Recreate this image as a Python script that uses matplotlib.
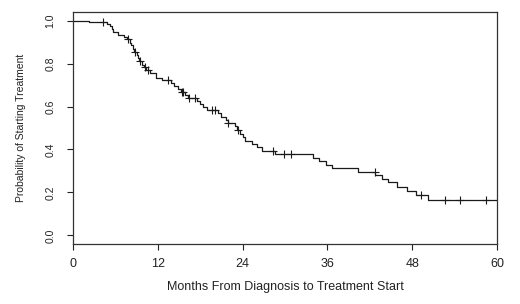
import numpy as np
import matplotlib
matplotlib.use("Agg")
import matplotlib.pyplot as plt

# Kaplan-Meier step curve (time in months, survival after the drop)
step_times = [2.2, 4.8, 5.2, 5.5, 5.7, 6.4, 7.2, 7.6, 8.0, 8.2, 8.5, 8.7, 9.0, 9.2,
              9.4, 9.7, 10.0, 10.4, 10.9, 11.8, 12.6, 13.8, 14.3, 14.8, 15.3, 15.8,
              16.3, 17.5, 18.0, 18.4, 19.0, 20.5, 21.0, 21.6, 22.0, 22.9, 23.2, 23.6,
              24.0, 24.4, 25.4, 26.1, 26.7, 28.6, 34.0, 34.8, 35.8, 36.7, 40.4, 42.8,
              43.7, 44.6, 45.8, 47.2, 48.6, 50.3]
step_surv = [0.993, 0.985, 0.975, 0.962, 0.945, 0.935, 0.925, 0.912, 0.898, 0.885,
             0.870, 0.855, 0.840, 0.825, 0.810, 0.795, 0.782, 0.770, 0.757, 0.735,
             0.722, 0.708, 0.695, 0.682, 0.668, 0.652, 0.640, 0.625, 0.610, 0.597,
             0.583, 0.568, 0.553, 0.538, 0.524, 0.508, 0.492, 0.474, 0.456, 0.440,
             0.425, 0.410, 0.393, 0.377, 0.361, 0.346, 0.330, 0.312, 0.296, 0.280,
             0.264, 0.248, 0.224, 0.206, 0.186, 0.167]

# censored observations
censor_times = [4.3, 7.8, 8.8, 9.5, 10.2, 10.6, 13.4, 15.4, 15.6, 16.4, 17.3, 19.6,
                20.1, 22.0, 23.4, 28.3, 29.8, 30.9, 42.7, 49.3, 52.6, 54.8, 58.5]

x_ticks = [0, 12, 24, 36, 48, 60]
y_ticks = [0.0, 0.2, 0.4, 0.6, 0.8, 1.0]
x_title = "Months From Diagnosis to Treatment Start"
y_title = "Probability of Starting Treatment"
x_max = 60

plt.rcParams['font.family'] = ['Liberation Sans', 'DejaVu Sans']
ink = '#222222'

fig = plt.figure(figsize=(5.2, 3.04), dpi=100)
ax = fig.add_axes([73/520, 1 - 244/304, (497 - 73)/520, (244 - 12)/304])

xs = np.concatenate([[0], step_times, [x_max]])
ys = np.concatenate([[1.0], step_surv, [step_surv[-1]]])
ax.step(xs, ys, where='post', color='#1a1a1a', lw=0.9)

# y value of each censor mark taken from the step curve
idx = np.searchsorted(xs, censor_times, side='right') - 1
ax.plot(censor_times, ys[idx], ls='none', marker='+', ms=6, mew=0.8, color='#1a1a1a')

ax.set_xlim(0, x_max)
ax.set_ylim(-0.04, 1.04)
ax.set_xticks(x_ticks)
ax.set_xticklabels([str(t) for t in x_ticks], fontsize=9, color=ink)
ax.set_yticks(y_ticks)
ax.set_yticklabels([f"{t:.1f}" for t in y_ticks], fontsize=7.5, color=ink,
                   rotation=90, va='center')
ax.tick_params(axis='x', length=4, width=0.8, pad=6, colors=ink)
ax.tick_params(axis='y', length=4.5, width=0.8, pad=8, colors=ink)
for s in ax.spines.values():
    s.set_linewidth(0.9)
    s.set_color('#333333')

ax.set_xlabel(x_title, fontsize=9, color=ink, labelpad=8)
ax.set_ylabel(y_title, fontsize=7.5, color=ink, labelpad=14)

fig.savefig("out.png", dpi=100)
